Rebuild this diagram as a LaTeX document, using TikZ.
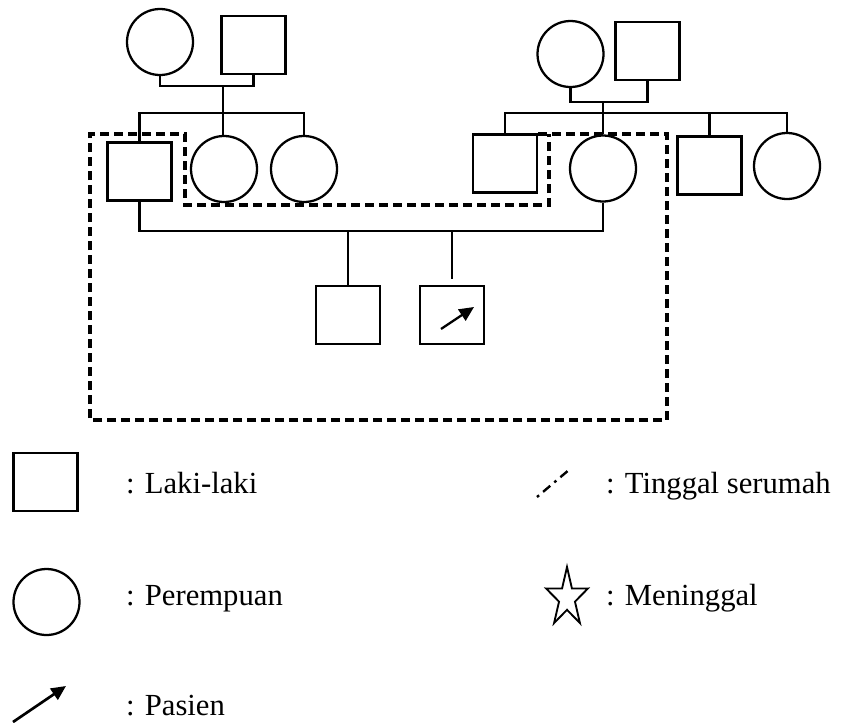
\documentclass[tikz,border=0pt]{standalone}
\usepackage{fontspec}
\setmainfont{Liberation Serif}
\usetikzlibrary{arrows.meta}

\begin{document}
\begin{tikzpicture}[x=0.75pt,y=0.75pt,yscale=-1,xscale=1,line width=1.7pt,
    male/.style={draw, rectangle, minimum width=48pt, minimum height=43.5pt, inner sep=0pt},
    female/.style={draw, circle, minimum size=49.5pt, inner sep=0pt},
    household/.style={line width=2.4pt, dash pattern=on 6.5pt off 4pt},
    patientarrow/.style={-{Triangle[length=11pt,width=10pt]}},
    legendtext/.style={anchor=base west, inner sep=0pt, font=\fontsize{23}{27}\selectfont}]
\useasboundingbox (0,0) rectangle (841,722);

%Grandparents left
    \node [female] (gmL) at (160,42) {};
    \node [male] (gfL) at (253.5,45) {};
%Grandparents right
    \node [female] (gmR) at (570.5,54) {};
    \node [male] (gfR) at (647.5,51) {};

%Children left
    \node [male] (fa) at (139.5,171.5) {};
    \node [female] (c2) at (224,169) {};
    \node [female] (c3) at (304,169) {};
%Children right
    \node [male] (d1) at (505,163.5) {};
    \node [female] (mo) at (603,168.5) {};
    \node [male] (d3) at (709.5,165.5) {};
    \node [female] (d4) at (787,166) {};

%Grandchildren
    \node [male] (ch1) at (348,315) {};
    \node [male] (pat) at (452,315) {};

%Marriage and sibship lines
    \coordinate (mL) at (223,86);
    \coordinate (sibL) at (223,113);
    \draw (gmL.south) |- (mL) -| (gfL.south);
    \draw (mL) -- (mL |- c2.north);
    \draw (fa.north) -- (fa.north |- sibL) -- (c3.north |- sibL) -- (c3.north);

    \coordinate (mR) at (603,101.7);
    \coordinate (sibR) at (603,113);
    \draw (gmR.south) |- (mR) -| (gfR.south);
    \draw (mR) -- (mo.north);
    \draw (d1.north) -- (d1.north |- sibR) -- (d4.north |- sibR) -- (d4.north);
    \draw (d3.north) -- (d3.north |- sibR);

    \coordinate (cpl) at (348,231);
    \draw (fa.south) |- (cpl) -| (mo.south);
    \draw (cpl) -- (ch1.north);
    \draw [shorten >=4.5pt] (cpl -| pat.north) -- (pat.north);

%Patient mark
    \coordinate (pa1) at (441,329);
    \coordinate (pa2) at (474,307);
    \draw [patientarrow] (pa1) -- (pa2);

%Household border
    \draw [household] (538,134) -- (667,134) -- (667,420) -- (90,420) -- (90,134) -- (185,134) -- (185,205) -- (549,205) -- (549,134);

%Legend
    \node [male] (lgM) at (45.5,482) {};
    \node [female] (lgF) at (46.5,602) {};
    \coordinate (lgA1) at (13,722);
    \coordinate (lgA2) at (66,686);
    \draw [patientarrow, line width=2pt] (lgA1) -- (lgA2);
    \coordinate (lgH1) at (537,497);
    \coordinate (lgH2) at (570,469);
    \draw [line width=1.8pt, dash pattern=on 2pt off 4pt on 7pt off 4pt] (lgH1) -- (lgH2);
    \draw [line width=1.4pt, line join=miter, shift={(567,598)}, xscale=0.71] (270:31) \foreach \k in {0,...,4} {-- ({306+72*\k}:11.8) -- ({342+72*\k}:31)} -- cycle;

% Text Node
    \node [legendtext] (tMale) at (125,493) {: Laki-laki};
% Text Node
    \node [legendtext] (tFemale) at (125,605) {: Perempuan};
% Text Node
    \node [legendtext] (tPatient) at (125,715) {: Pasien};
% Text Node
    \node [legendtext] (tHouse) at (605,493) {: Tinggal serumah};
% Text Node
    \node [legendtext] (tDead) at (605,605) {: Meninggal};

\end{tikzpicture}
\end{document}
